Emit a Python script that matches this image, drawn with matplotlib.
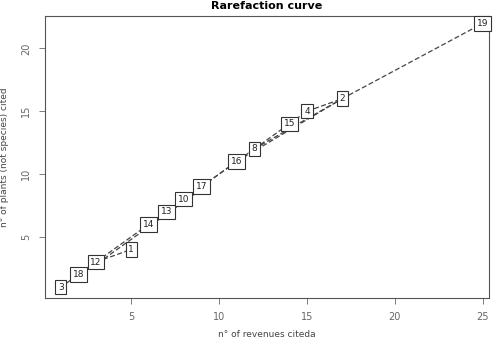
import matplotlib.pyplot as plt

# sites and cumulative counts
labels = ['3', '18', '12', '1', '14', '13', '10', '17', '16', '8', '15', '4', '2', '19']
revenues = [1, 2, 3, 5, 6, 7, 8, 9, 11, 12, 14, 15, 17, 25]
plants = [1, 2, 3, 4, 6, 7, 8, 9, 11, 12, 14, 15, 16, 22]

# accumulation paths between sites
segments = [('3', '18'), ('18', '12'), ('12', '14'), ('12', '14'), ('12', '1'),
            ('14', '13'), ('14', '13'), ('13', '10'), ('13', '10'),
            ('10', '17'), ('10', '17'), ('17', '16'), ('17', '8'),
            ('16', '8'), ('16', '2'), ('8', '15'), ('8', '2'),
            ('15', '4'), ('4', '2'), ('2', '19')]

pos = {lab: (x, y) for lab, x, y in zip(labels, revenues, plants)}

fig = plt.figure(figsize=(5, 3.43), dpi=100)
ax = fig.add_axes([0.09, 0.131, 0.888, 0.823])

offs = {}
for a, b in segments:
    k = (a, b)
    n = offs.get(k, 0)
    offs[k] = n + 1
    (x0, y0), (x1, y1) = pos[a], pos[b]
    d = 0.1 * n
    ax.plot([x0 + d, x1 + d], [y0 - d, y1 - d], ls=(0, (4, 2)), color='#444444', lw=0.9, zorder=1)

for lab, x, y in zip(labels, revenues, plants):
    ax.text(x, y, lab, ha='center', va='center', fontsize=6.5, color='#222222',
            bbox=dict(boxstyle='square,pad=0.3', fc='white', ec='#333333', lw=0.8), zorder=3)

ax.set_xlim(0.1, 25.35)
ax.set_ylim(0.13, 22.6)
ax.set_xticks([5, 10, 15, 20, 25])
ax.set_yticks([5, 10, 15, 20])
ax.tick_params(direction='out', length=4, width=0.6, colors='#666666', labelsize=7, labelcolor='#666666', pad=6)
for t in ax.get_yticklabels():
    t.set_rotation(90)
    t.set_va('center')
for s in ax.spines.values():
    s.set_color('#555555')
    s.set_linewidth(0.8)

ax.set_xlabel('n° of revenues citeda', fontsize=6.5, color='#444444', labelpad=6)
ax.set_ylabel('n° of plants (not species) cited', fontsize=6.5, color='#444444')
ax.yaxis.set_label_coords(-0.082, 0.5)
ax.set_title('Rarefaction curve', fontsize=8, fontweight='bold', pad=5)

fig.savefig('out.png', dpi=100)
